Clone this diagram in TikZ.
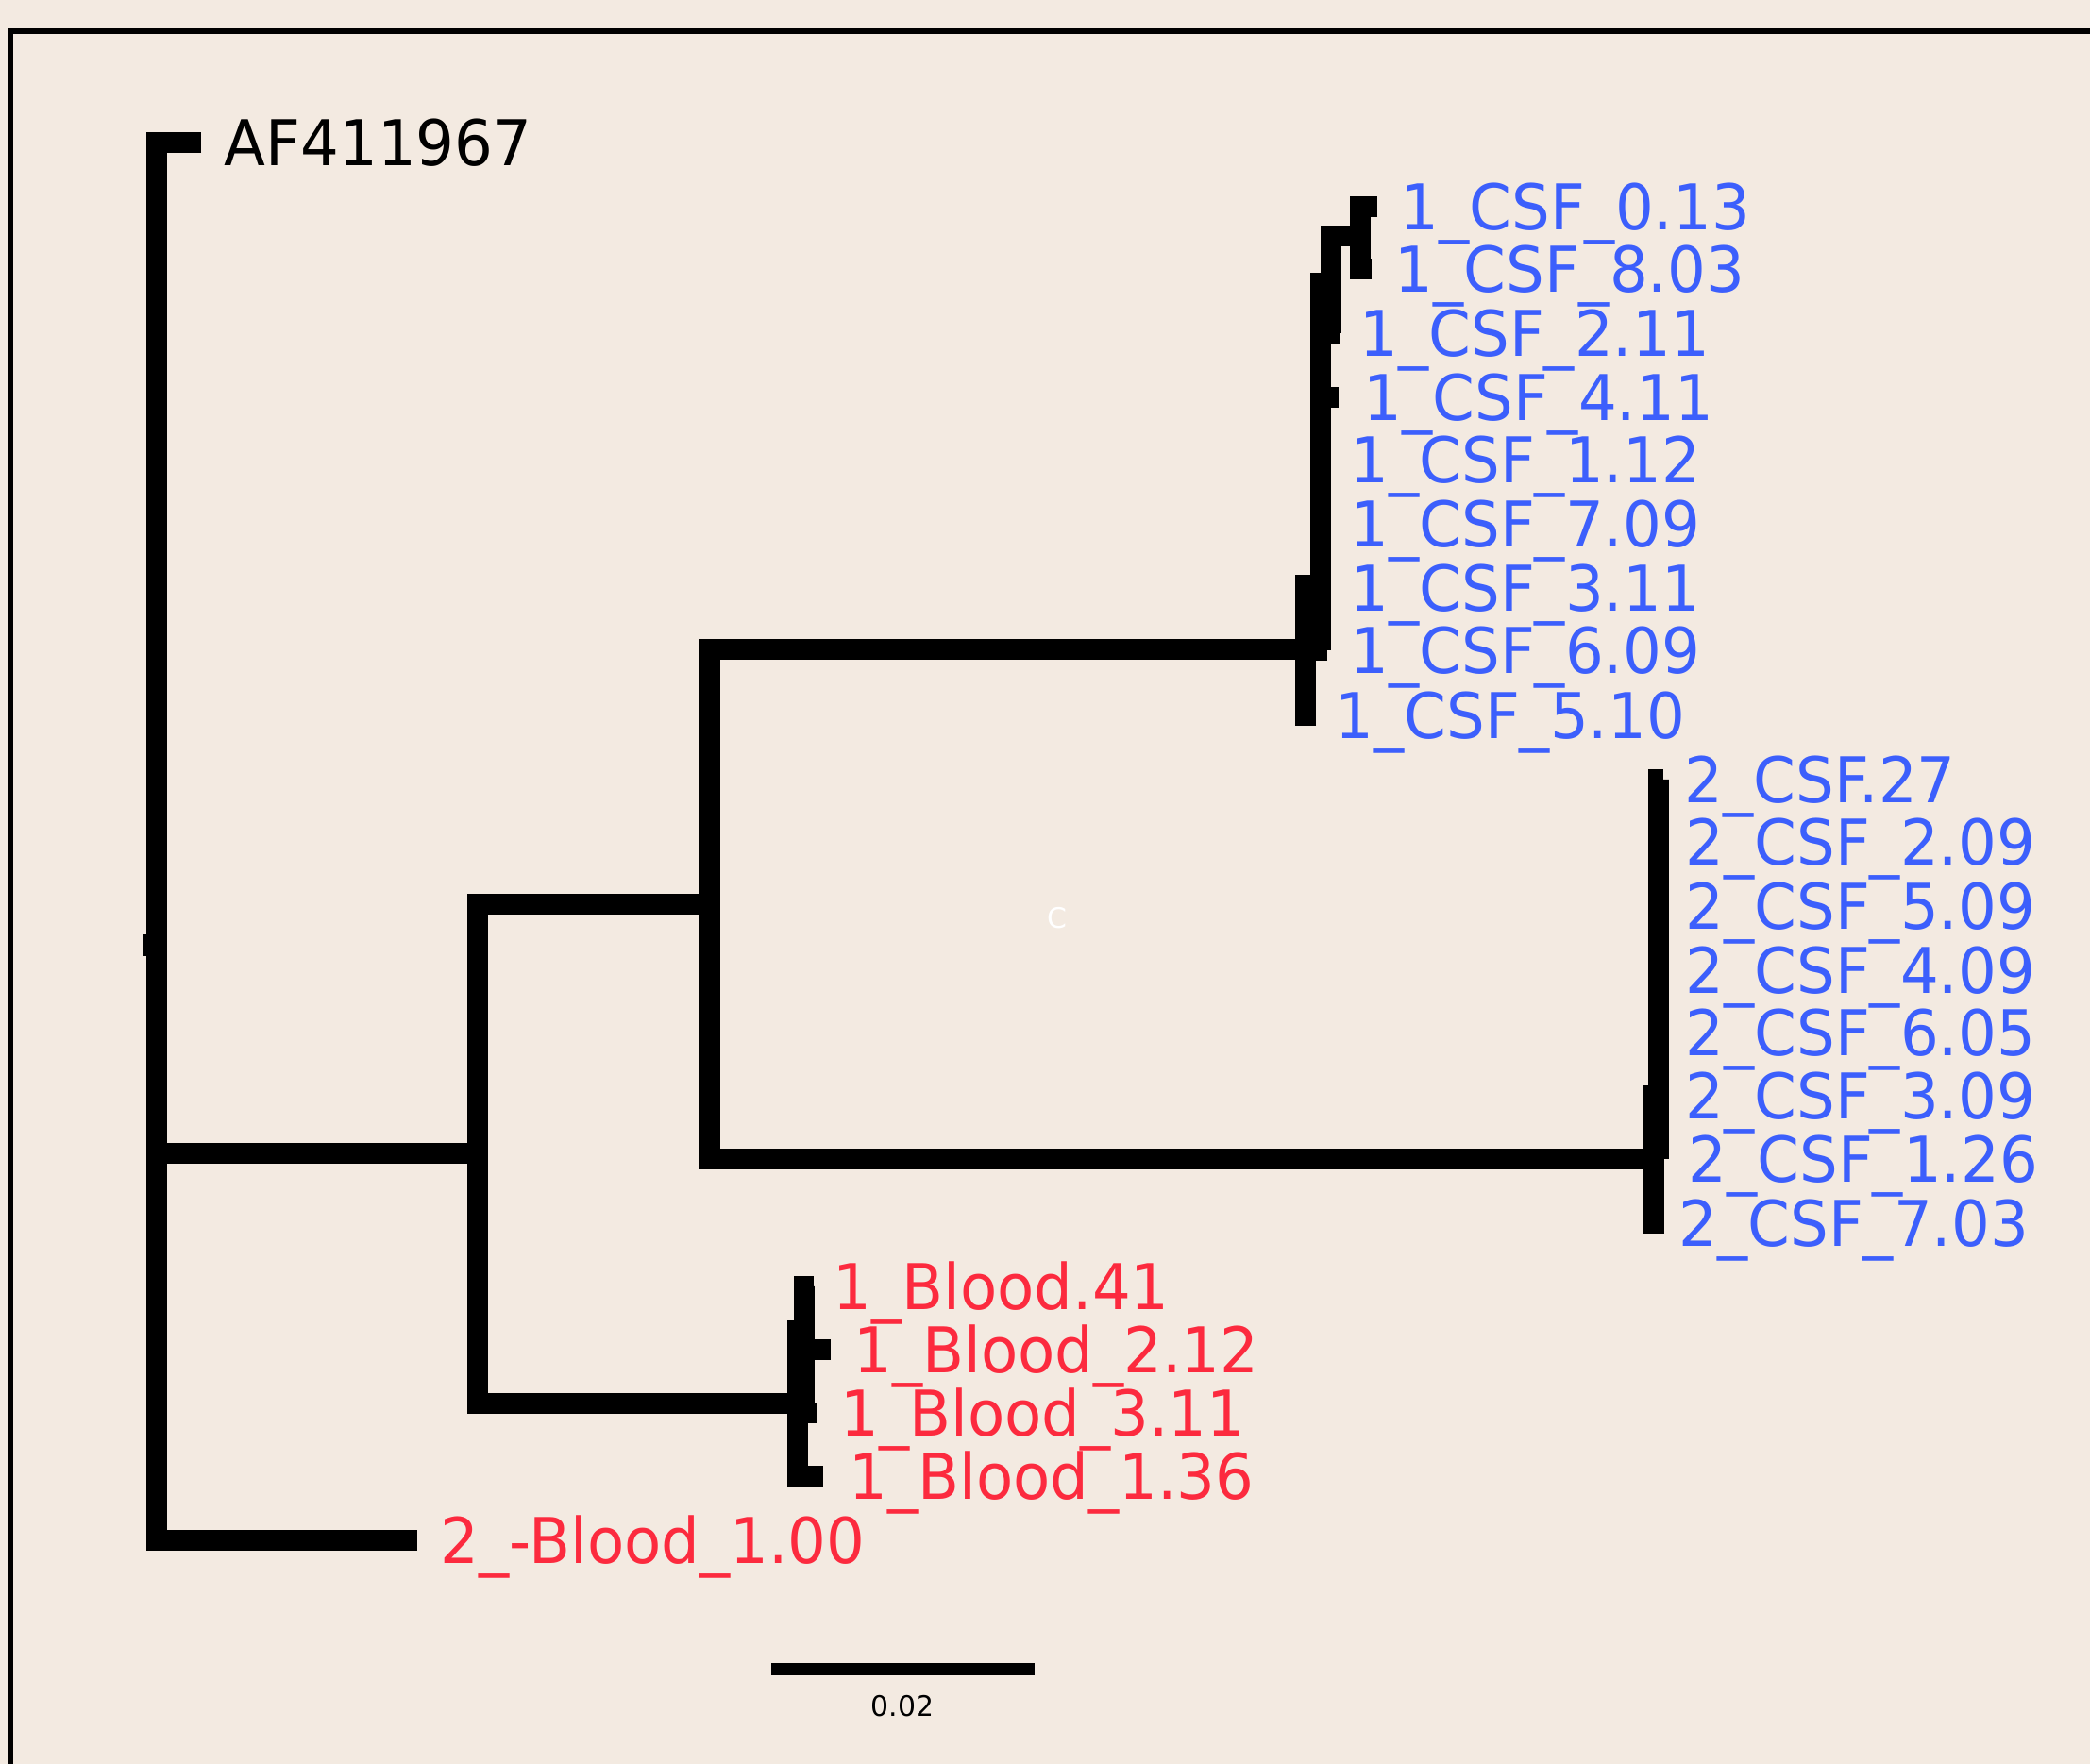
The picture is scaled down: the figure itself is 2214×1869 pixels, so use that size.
\documentclass[tikz,border=0pt]{standalone}
\usepackage{fontspec}
\setmainfont{DejaVu Sans}
\newfontfamily\leaffam[FakeStretch=0.96]{DejaVu Sans}
\usetikzlibrary{positioning}
\definecolor{paper}{RGB}{243,234,225}
\definecolor{csfblue}{RGB}{60,95,252}
\definecolor{bloodred}{RGB}{252,42,62}
\newcommand{\leaffont}{\leaffam\fontsize{19}{22}\selectfont}
\newcommand{\tinyfont}{\fontsize{8.5}{10}\selectfont}

\begin{document}
\begin{tikzpicture}[
    x=0.01cm, y=-0.01cm,
    branch/.style={line width=0.22cm, line join=miter},
    leaf/.style={inner sep=0pt, anchor=west, font=\leaffont, text height=0.48cm, text depth=0cm},
    csf/.style={leaf, text=csfblue},
    blood/.style={leaf, text=bloodred},
    outgrp/.style={leaf, text=black}
]
\fill[paper] (0,0) rectangle (2214,1869);
\useasboundingbox (0,0) rectangle (2214,1869);
\draw[line width=0.065cm] (11,1890) |- (2240,33);

\coordinate (tout) at (213,151);
\coordinate (r) at (166,1222);
\coordinate (tbl2) at (442,1632);
\coordinate (n2) at (506,1222);
\coordinate (n3) at (752,958);
\coordinate (a1) at (1383,688);
\coordinate (c1) at (1752,1228);
\coordinate (b1) at (845,1487);

\coordinate (a2) at (1399,620);
\coordinate (a3) at (1410,300);
\coordinate (a4) at (1441,250);
\coordinate (t013) at (1459,219);
\coordinate (t803) at (1453,285);
\coordinate (t211) at (1420,353);
\coordinate (t411) at (1418,421);
\coordinate (t112) at (1410,487);
\coordinate (t709) at (1410,555);
\coordinate (t311) at (1410,623);
\coordinate (t609) at (1406,689);
\coordinate (t510) at (1394,758);

\coordinate (c2) at (1757,1161);
\coordinate (t027) at (1762,826);
\coordinate (t209) at (1768,892);
\coordinate (t509) at (1768,960);
\coordinate (t409) at (1768,1028);
\coordinate (t605) at (1768,1094);
\coordinate (t309) at (1766,1161);
\coordinate (t126) at (1763,1228);
\coordinate (t703) at (1763,1296);

\coordinate (b2) at (852,1410);
\coordinate (t141) at (862,1363);
\coordinate (t212) at (880,1430);
\coordinate (t311b) at (866,1497);
\coordinate (t136) at (872,1564);

\draw[branch] (tout) -| (r) |- (tbl2);
\fill (152,990) rectangle (160,1013);
\draw[branch] (r) -- (n2);
\draw[branch] (n3) -| (n2) |- (b1);
\draw[branch] (a1) -| (n3) |- (c1);

\draw[branch] (t510) -| (a1) |- (a2);
\draw[branch] (a3) -| (a2) |- (t609);
\foreach \t in {t311,t709,t112,t411} \draw[branch] (a2 |- \t) -- (\t);
\draw[branch] (a4) -| (a3) |- (t211);
\draw[branch] (t013) -| (a4) |- (t803);

\draw[branch] (c2) -| (c1) |- (t703);
\draw[branch] (t027) -| (c2) |- (t126);
\foreach \t in {t209,t509,t409,t605,t309} \draw[branch] (c2 |- \t) -- (\t);

\draw[branch] (b2) -| (b1) |- (t136);
\draw[branch] (t141) -| (b2) |- (t311b);
\draw[branch] (b2 |- t212) -- (t212);

\node[outgrp, right=0.24cm of tout] (lout) {AF411967};
\node[blood, right=0.24cm of tbl2] (lbl2) {2\_-Blood\_1.00};

\node[csf, right=0.24cm of t013] (l013) {1\_CSF\_0.13};
\node[csf, right=0.24cm of t803] (l803) {1\_CSF\_8.03};
\node[csf, right=0.2cm of t211] (l211) {1\_CSF\_2.11};
\node[csf, right=0.26cm of t411] (l411) {1\_CSF\_4.11};
\node[csf, right=0.2cm of t112] (l112) {1\_CSF\_1.12};
\node[csf, right=0.2cm of t709] (l709) {1\_CSF\_7.09};
\node[csf, right=0.2cm of t311] (l311) {1\_CSF\_3.11};
\node[csf, right=0.24cm of t609] (l609) {1\_CSF\_6.09};
\node[csf, right=0.2cm of t510] (l510) {1\_CSF\_5.10};

\node[csf, right=0.22cm of t027] (l027) {2\_CSF.27};
\node[csf, right=0.17cm of t209] (l209) {2\_CSF\_2.09};
\node[csf, right=0.17cm of t509] (l509) {2\_CSF\_5.09};
\node[csf, right=0.17cm of t409] (l409) {2\_CSF\_4.09};
\node[csf, right=0.17cm of t605] (l605) {2\_CSF\_6.05};
\node[csf, right=0.19cm of t309] (l309) {2\_CSF\_3.09};
\node[csf, right=0.25cm of t126] (l126) {2\_CSF\_1.26};
\node[csf, right=0.15cm of t703] (l703) {2\_CSF\_7.03};

\node[blood, right=0.2cm of t141] (l141) {1\_Blood.41};
\node[blood, right=0.24cm of t212] (l212) {1\_Blood\_2.12};
\node[blood, right=0.24cm of t311b] (l311b) {1\_Blood\_3.11};
\node[blood, right=0.27cm of t136] (l136) {1\_Blood\_1.36};

\node[text=white, font=\tinyfont, inner sep=0pt] (mark) at (1120,973) {C};

\coordinate (sbl) at (817,1768);
\coordinate (sbr) at (1096,1768);
\draw[line width=0.13cm] (sbl) -- (sbr);
\node[font=\tinyfont, inner sep=0pt] (sblab) at (956,1808) {0.02};
\end{tikzpicture}
\end{document}
